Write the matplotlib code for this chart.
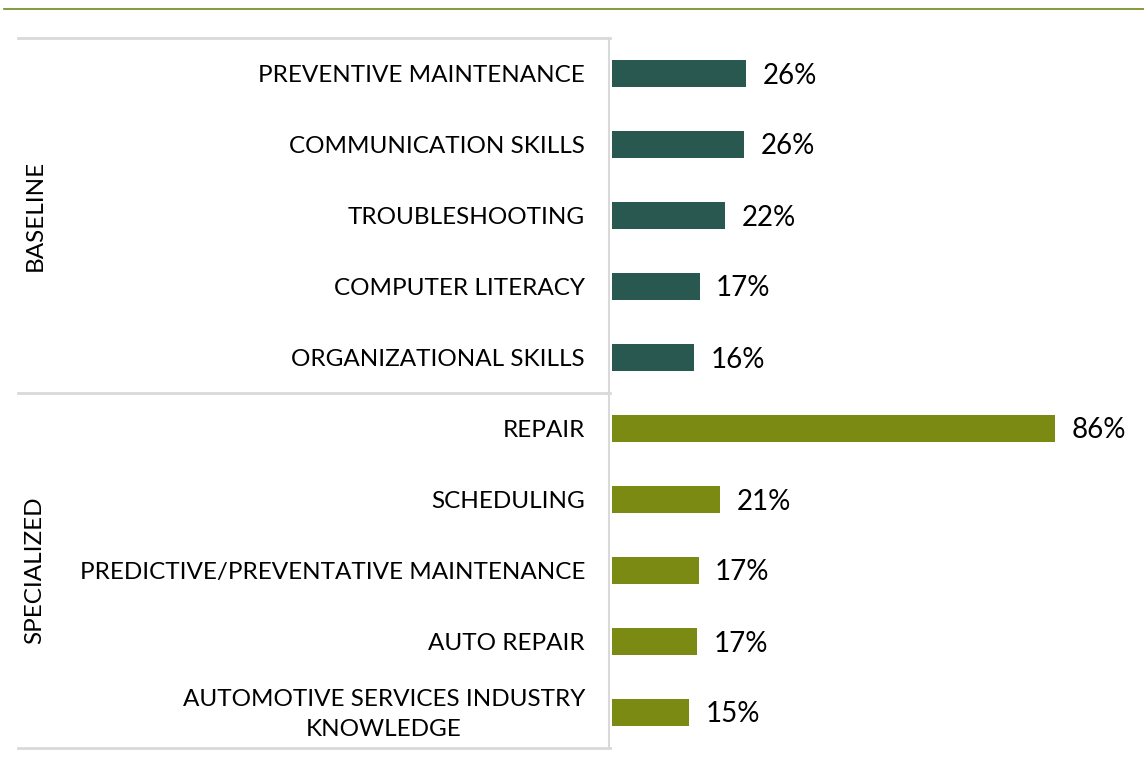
import matplotlib.pyplot as plt
from matplotlib.lines import Line2D
from matplotlib.transforms import blended_transform_factory, offset_copy

# data
skills = ["PREVENTIVE MAINTENANCE", "COMMUNICATION SKILLS", "TROUBLESHOOTING",
          "COMPUTER LITERACY", "ORGANIZATIONAL SKILLS", "REPAIR", "SCHEDULING",
          "PREDICTIVE/PREVENTATIVE MAINTENANCE", "AUTO REPAIR",
          "AUTOMOTIVE SERVICES INDUSTRY\nKNOWLEDGE"]
values = [26, 25.6, 22, 17, 16, 86, 21, 16.8, 16.6, 15]
labels = ["26%", "26%", "22%", "17%", "16%", "86%", "21%", "17%", "17%", "15%"]
groups = ["BASELINE", "SPECIALIZED"]
group_sizes = [5, 5]
group_colors = ["#285850", "#7B8A12"]

plt.rcParams['font.family'] = ['Lato', 'DejaVu Sans']

W, H = 1144, 772
fig = plt.figure(figsize=(W / 100, H / 100), dpi=100)
ax = fig.add_axes([612 / W, 1 - 748 / H, (W - 612) / W, 710 / H])

colors = []
for c, n in zip(group_colors, group_sizes):
    colors += [c] * n

y = list(range(len(skills)))
ax.barh(y, values, height=0.37, color=colors)
ax.set_ylim(len(skills) - 0.5, -0.5)
ax.set_xlim(0, (W - 612) / 5.15)

# value labels, nudged down a little so the caps sit centred on the bar
vtrans = offset_copy(ax.transData, fig=fig, x=0, y=-2, units='dots')
for yi, v, lab in zip(y, values, labels):
    ax.text(v + 3.2, yi, lab, transform=vtrans, va='center', ha='left',
            fontsize=20, color='black')

# category labels (drawn as text so the two-line one can be centred)
trans = offset_copy(blended_transform_factory(ax.transAxes, ax.transData),
                    fig=fig, x=-27, y=-2, units='dots')
for yi, s in zip(y, skills):
    ax.text(0, yi, s, transform=trans, ha='right', va='center',
            multialignment='center', linespacing=1.5, fontsize=17.5)

ax.set_yticks([])
ax.set_xticks([])
for s in ['top', 'right', 'bottom']:
    ax.spines[s].set_visible(False)
ax.spines['left'].set_color('#D9D9D9')
ax.spines['left'].set_linewidth(1.5)
ax.spines['left'].set_position(('outward', 2))

# group separators and labels
x0, x1 = 18 / W, 610 / W
fig.add_artist(Line2D([x0, x1], [1 - 38 / H] * 2, color='#D9D9D9', lw=2))
start = 0
for g, n in zip(groups, group_sizes):
    end = start + n
    ybot = 1 - (38 + 71 * end) / H
    fig.add_artist(Line2D([x0, x1], [ybot] * 2, color='#D9D9D9', lw=2))
    ymid = 1 - (38 + 71 * (start + end) / 2) / H
    fig.text(35 / W, ymid, g, rotation=90, ha='center', va='center', fontsize=17.5)
    start = end

# top rule
fig.add_artist(Line2D([4 / W, 1], [1 - 9 / H] * 2, color='#6E8B1E', lw=1.2))

fig.savefig("out.png", dpi=100)
